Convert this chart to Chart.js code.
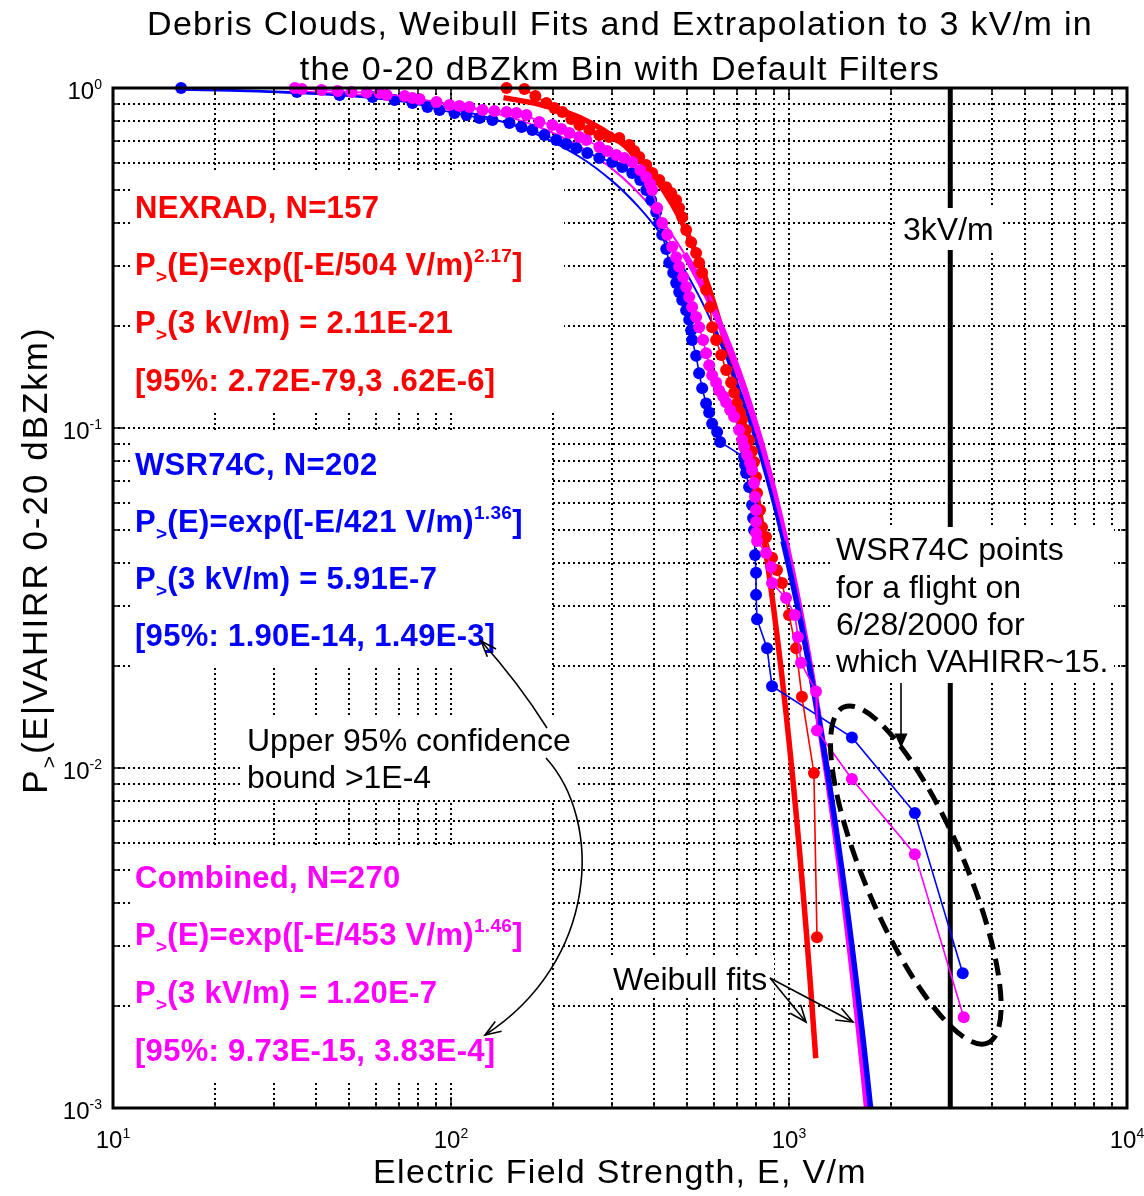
<!DOCTYPE html>
<html>
<head>
<meta charset="utf-8">
<script src="https://cdn.jsdelivr.net/npm/chart.js@4.4.1/dist/chart.umd.min.js"></script>
<style>
  html, body { margin: 0; padding: 0; background: #fff; }
  canvas { display: block; }
</style>
</head>
<body>
<canvas id="chart" width="1144" height="1196"></canvas>
<script>
// --- Data ---
const nexradE = [145.9, 164.9, 177.7, 191.5, 202.2, 213.5, 227.0, 239.7, 256.6, 274.7, 294.0, 314.7, 336.7, 348.4, 360.5, 378.1, 393.8, 413.0, 433.2, 448.1, 463.6, 473.2, 483.1, 496.3, 513.5, 531.2, 542.1, 553.4, 568.6, 584.3, 592.3, 608.6, 629.9, 651.6, 674.3, 688.0, 702.2, 716.7, 726.5, 746.4, 761.8, 777.5, 788.1, 798.9, 804.4, 821.0, 832.2, 855.2, 890.8, 921.6, 953.5, 1000, 1049, 1092, 1185, 1210];
const nexradP = [1, 0.993, 0.947, 0.903, 0.873, 0.850, 0.811, 0.778, 0.752, 0.727, 0.718, 0.713, 0.680, 0.653, 0.627, 0.594, 0.562, 0.536, 0.511, 0.491, 0.468, 0.444, 0.417, 0.382, 0.352, 0.327, 0.306, 0.286, 0.255, 0.227, 0.198, 0.1815, 0.164, 0.148, 0.136, 0.127, 0.118, 0.111, 0.106, 0.0987, 0.0922, 0.0855, 0.0794, 0.0718, 0.0644, 0.0574, 0.0511, 0.0478, 0.0415, 0.0382, 0.0350, 0.0282, 0.0225, 0.0162, 0.00967, 0.00318];

const wsrE = [15.9, 35.0, 46.8, 58.6, 68.1, 76.9, 85.2, 92.5, 102.4, 111.1, 121.4, 132.6, 148.9, 161.6, 174.1, 188.9, 204.9, 219.4, 234.9, 253.1, 274.7, 300.0, 321.2, 343.8, 363.0, 378.1, 391.1, 404.6, 413.0, 421.5, 433.2, 442.1, 454.3, 463.6, 473.2, 483.1, 496.3, 506.6, 513.5, 516.9, 531.2, 542.1, 553.4, 568.6, 580.4, 592.3, 612.9, 625.6, 736.3, 741.3, 746.4, 761.8, 777.5, 782.8, 788.1, 793.5, 798.9, 799.0, 804.4, 861.0, 890.8, 1535, 2357, 3266];
const wsrP = [1, 0.973, 0.954, 0.941, 0.922, 0.903, 0.879, 0.862, 0.844, 0.833, 0.816, 0.805, 0.789, 0.768, 0.752, 0.727, 0.703, 0.684, 0.666, 0.644, 0.622, 0.606, 0.586, 0.562, 0.536, 0.501, 0.468, 0.432, 0.401, 0.370, 0.336, 0.306, 0.286, 0.267, 0.251, 0.238, 0.222, 0.208, 0.194, 0.1815, 0.163, 0.145, 0.131, 0.118, 0.111, 0.103, 0.0973, 0.0910, 0.0821, 0.0778, 0.0737, 0.0671, 0.0594, 0.0544, 0.0501, 0.0423, 0.0375, 0.0323, 0.0274, 0.0225, 0.0174, 0.0123, 0.00737, 0.00249];

const combE = [34.5, 36.2, 41.4, 46.2, 50.8, 56.3, 61.5, 64.5, 72.9, 76.9, 80.7, 90.6, 99.0, 105.9, 113.4, 123.9, 134.4, 145.9, 156.1, 167.2, 182.6, 199.5, 212.1, 223.9, 239.7, 251.4, 274.7, 290.0, 308.3, 325.6, 343.8, 363.0, 378.1, 388.5, 393.8, 407.4, 421.5, 436.1, 451.2, 463.6, 473.2, 486.4, 496.3, 506.6, 516.9, 531.2, 542.1, 557.1, 568.6, 580.4, 592.3, 608.6, 621.3, 638.5, 651.6, 669.6, 688.0, 711.8, 726.5, 736.3, 751.3, 767.1, 777.5, 788.1, 793.5, 798.9, 799.0, 799.1, 804.4, 855.2, 884.8, 890.8, 979.8, 1041, 1063, 1085, 1202, 1210, 1535, 2357, 3288];
const combP = [1, 0.993, 0.987, 0.980, 0.973, 0.970, 0.967, 0.954, 0.947, 0.935, 0.928, 0.910, 0.891, 0.885, 0.879, 0.862, 0.856, 0.850, 0.844, 0.833, 0.794, 0.778, 0.758, 0.737, 0.718, 0.703, 0.671, 0.653, 0.635, 0.622, 0.606, 0.574, 0.547, 0.522, 0.501, 0.444, 0.401, 0.370, 0.341, 0.318, 0.298, 0.278, 0.260, 0.243, 0.227, 0.212, 0.198, 0.1815, 0.166, 0.153, 0.143, 0.136, 0.129, 0.124, 0.119, 0.113, 0.108, 0.0987, 0.0922, 0.0879, 0.0833, 0.0789, 0.0752, 0.0689, 0.0627, 0.0574, 0.0529, 0.0491, 0.0465, 0.0429, 0.0390, 0.0350, 0.0316, 0.0282, 0.0243, 0.0204, 0.0168, 0.0129, 0.00928, 0.00558, 0.00185];

// Weibull fit curves as drawn
const nexradFitE = [143, 180, 220, 260, 300, 350, 400, 450, 500, 550, 600, 650, 700, 750, 800, 850, 900, 950, 1000, 1050, 1100, 1150, 1200];
const nexradFitP = [0.9371, 0.8985, 0.8474, 0.7883, 0.7230, 0.6356, 0.5458, 0.4575, 0.3743, 0.2986, 0.2323, 0.1761, 0.1300, 0.09353, 0.06553, 0.04467, 0.02963, 0.01911, 0.01200, 0.00732, 0.00434, 0.00250, 0.00140];
const wsrFitE = [16, 25, 40, 60, 90, 130, 180, 240, 300, 360, 420, 480, 540, 600, 660, 720, 800, 880, 960, 1050, 1150, 1250, 1350, 1450, 1550, 1650, 1750, 1850];
const wsrFitP = [0.9884, 0.9787, 0.9601, 0.9318, 0.8846, 0.8169, 0.7299, 0.6277, 0.5322, 0.4456, 0.3691, 0.3026, 0.2459, 0.1981, 0.1583, 0.1256, 0.09121, 0.06550, 0.04651, 0.03125, 0.01980, 0.01236, 0.00761, 0.00463, 0.00278, 0.00165, 0.000966, 0.000560];
const combFitE = [35, 50, 70, 100, 140, 190, 250, 310, 370, 430, 490, 550, 610, 670, 740, 820, 900, 980, 1070, 1170, 1270, 1370, 1470, 1570, 1670, 1770, 1870];
const combFitP = [0.9765, 0.9607, 0.9366, 0.8957, 0.8352, 0.7549, 0.6571, 0.5628, 0.4751, 0.3958, 0.3258, 0.2651, 0.2135, 0.1702, 0.1291, 0.09269, 0.06557, 0.04572, 0.02998, 0.01838, 0.01107, 0.00653, 0.00378, 0.00216, 0.00121, 0.000667, 0.000362];

// 3 kV/m marker line
const markerE = [3000, 3000];
const markerP = [0.001, 1];

// dashed ellipse around the 6/28/2000 flight points (ends of its long axis)
const ellipseE = [1454, 3871];
const ellipseP = [0.01511, 0.001553];

// tick labels (powers of ten)
const xTickExps = [1, 2, 3, 4];
const yTickExps = [0, -1, -2, -3];

// --- Styling ---
const RED = '#ff0000', BLUE = '#0000ff', MAG = '#ff00ff';
const FONT = '"Liberation Sans", Arial, Helvetica, sans-serif';

const toPoints = (es, ps) => es.map((e, i) => ({ x: e, y: ps[i] }));

function fontOf(size, bold) {
    return `${bold ? 'bold ' : ''}${size}px ${FONT}`;
}

// runs: [[text, kind]] with kind undefined | 'sub' | 'sup'
function runsWidth(ctx, runs, size, bold) {
    let w = 0;
    runs.forEach(([t, k]) => {
        ctx.font = fontOf(k ? Math.round(size * 0.6) : size, bold);
        w += ctx.measureText(t).width;
    });
    return w;
}

function drawRuns(ctx, runs, x, y, size, opts = {}) {
    const bold = !!opts.bold;
    ctx.letterSpacing = (opts.spacing || 0) + 'px';
    const w = runsWidth(ctx, runs, size, bold);
    let cx = opts.align === 'center' ? x - w / 2 : opts.align === 'right' ? x - w : x;
    ctx.fillStyle = opts.color || '#000';
    ctx.textAlign = 'left';
    ctx.textBaseline = 'alphabetic';
    runs.forEach(([t, k]) => {
        const s = k ? Math.round(size * 0.6) : size;
        ctx.font = fontOf(s, bold);
        const dy = k === 'sub' ? size * 0.26 : k === 'sup' ? -size * 0.42 : 0;
        ctx.fillText(t, cx, y + dy);
        cx += ctx.measureText(t).width;
    });
    ctx.letterSpacing = '0px';
    return w;
}

function arrowHead(ctx, x, y, ang, len, spread, filled) {
    const a1 = ang + Math.PI - spread, a2 = ang + Math.PI + spread;
    ctx.beginPath();
    ctx.moveTo(x + len * Math.cos(a1), y + len * Math.sin(a1));
    ctx.lineTo(x, y);
    ctx.lineTo(x + len * Math.cos(a2), y + len * Math.sin(a2));
    if (filled) { ctx.closePath(); ctx.fill(); } else ctx.stroke();
}

// text blocks (colour, left x, baselines, lines)
const textBlocks = [
    { color: RED, x: 135, base: [218, 275, 333, 391], lines: [
        [['NEXRAD, N=157']],
        [['P'], ['>', 'sub'], ['(E)=exp([-E/504 V/m)'], ['2.17', 'sup'], [']']],
        [['P'], ['>', 'sub'], ['(3 kV/m) = 2.11E-21']],
        [['[95%: 2.72E-79,3 .62E-6]']] ] },
    { color: BLUE, x: 135, base: [475, 532, 589, 646], lines: [
        [['WSR74C, N=202']],
        [['P'], ['>', 'sub'], ['(E)=exp([-E/421 V/m)'], ['1.36', 'sup'], [']']],
        [['P'], ['>', 'sub'], ['(3 kV/m) = 5.91E-7']],
        [['[95%: 1.90E-14, 1.49E-3]']] ] },
    { color: MAG, x: 135, base: [888, 945, 1003, 1061], lines: [
        [['Combined, N=270']],
        [['P'], ['>', 'sub'], ['(E)=exp([-E/453 V/m)'], ['1.46', 'sup'], [']']],
        [['P'], ['>', 'sub'], ['(3 kV/m) = 1.20E-7']],
        [['[95%: 9.73E-15, 3.83E-4]']] ] }
];

const whiteBoxes = [
    [132, 172, 432, 238], [132, 432, 420, 236], [132, 845, 420, 237],
    [242, 716, 336, 84], [897, 208, 104, 42], [830, 527, 284, 156], [608, 958, 166, 40]
];

const overlay = {
    id: 'overlay',
    beforeDraw(chart) {
        const ctx = chart.ctx;
        ctx.save();
        ctx.fillStyle = '#fff';
        ctx.fillRect(0, 0, chart.width, chart.height);
        ctx.restore();
    },
    beforeDatasetsDraw(chart) {
        const ctx = chart.ctx;
        const { left, right, top, bottom } = chart.chartArea;
        const xs = chart.scales.x, ys = chart.scales.y;
        ctx.save();
        ctx.strokeStyle = '#000';
        ctx.lineWidth = 2;
        ctx.setLineDash([2, 3]);
        for (let e = 1; e <= 3; e++) {
            for (let k = 1; k <= 9; k++) {
                const v = k * Math.pow(10, e);
                if (v <= 10) continue;
                const px = Math.round(xs.getPixelForValue(v));
                ctx.beginPath(); ctx.moveTo(px, top); ctx.lineTo(px, bottom); ctx.stroke();
            }
        }
        for (let e = -3; e <= -1; e++) {
            for (let k = 1; k <= 9; k++) {
                const v = k * Math.pow(10, e);
                if (v <= 0.001) continue;
                const py = Math.round(ys.getPixelForValue(v));
                ctx.beginPath(); ctx.moveTo(left, py); ctx.lineTo(right, py); ctx.stroke();
            }
        }
        ctx.restore();
    },
    afterDatasetsDraw(chart) {
        const ctx = chart.ctx;
        const { left, right, top, bottom } = chart.chartArea;
        const xs = chart.scales.x, ys = chart.scales.y;
        ctx.save();

        // white text backgrounds
        ctx.fillStyle = '#fff';
        whiteBoxes.forEach(([x, y, w, h]) => ctx.fillRect(x, y, w, h));

        // coloured fit summaries
        textBlocks.forEach(b => {
            b.lines.forEach((runs, i) => drawRuns(ctx, runs, b.x, b.base[i], 31, { bold: true, color: b.color, spacing: 0.3 }));
        });

        // black annotations
        drawRuns(ctx, [['3kV/m']], 903, 240, 32);
        drawRuns(ctx, [['Upper 95% confidence']], 247, 751, 32);
        drawRuns(ctx, [['bound >1E-4']], 247, 788, 32);
        drawRuns(ctx, [['WSR74C points']], 836, 560, 32);
        drawRuns(ctx, [['for a flight on']], 836, 598, 32);
        drawRuns(ctx, [['6/28/2000 for']], 836, 635, 32);
        drawRuns(ctx, [['which VAHIRR~15.']], 836, 672, 32);
        drawRuns(ctx, [['Weibull fits']], 613, 990, 32);

        // arrows
        ctx.strokeStyle = '#000';
        ctx.fillStyle = '#000';
        ctx.lineWidth = 1.6;
        ctx.beginPath();
        ctx.moveTo(547, 728);
        ctx.quadraticCurveTo(518, 682, 481, 641);
        ctx.stroke();
        arrowHead(ctx, 481, 641, Math.atan2(641 - 682, 481 - 518), 17, 0.35, false);

        ctx.beginPath();
        ctx.moveTo(546, 758);
        ctx.bezierCurveTo(604, 822, 598, 962, 485, 1035);
        ctx.stroke();
        arrowHead(ctx, 485, 1035, Math.atan2(1035 - 962, 485 - 598), 17, 0.35, false);

        [[806, 1022], [853, 1022]].forEach(([tx, ty]) => {
            ctx.beginPath(); ctx.moveTo(770, 978); ctx.lineTo(tx, ty); ctx.stroke();
            arrowHead(ctx, tx, ty, Math.atan2(ty - 978, tx - 770), 18, 0.38, false);
        });

        ctx.beginPath(); ctx.moveTo(901, 683); ctx.lineTo(901, 736); ctx.stroke();
        arrowHead(ctx, 901, 748, Math.PI / 2, 16, 0.42, true);

        // dashed ellipse
        const x1 = xs.getPixelForValue(ellipseE[0]), y1 = ys.getPixelForValue(ellipseP[0]);
        const x2 = xs.getPixelForValue(ellipseE[1]), y2 = ys.getPixelForValue(ellipseP[1]);
        ctx.save();
        ctx.lineWidth = 5;
        ctx.setLineDash([17, 9]);
        ctx.beginPath();
        ctx.ellipse((x1 + x2) / 2, (y1 + y2) / 2, Math.hypot(x2 - x1, y2 - y1) / 2, 50,
            Math.atan2(y2 - y1, x2 - x1), 0, Math.PI * 2);
        ctx.stroke();
        ctx.restore();

        // frame and inward ticks
        ctx.setLineDash([]);
        ctx.lineWidth = 1.5;
        for (let e = 1; e <= 3; e++) {
            for (let k = 1; k <= 9; k++) {
                const v = k * Math.pow(10, e);
                if (v <= 10) continue;
                const px = Math.round(xs.getPixelForValue(v));
                const len = k === 1 ? 11 : 6;
                ctx.beginPath();
                ctx.moveTo(px, bottom); ctx.lineTo(px, bottom - len);
                ctx.moveTo(px, top); ctx.lineTo(px, top + len);
                ctx.stroke();
            }
        }
        for (let e = -3; e <= -1; e++) {
            for (let k = 1; k <= 9; k++) {
                const v = k * Math.pow(10, e);
                if (v <= 0.001) continue;
                const py = Math.round(ys.getPixelForValue(v));
                const len = k === 1 ? 11 : 6;
                ctx.beginPath();
                ctx.moveTo(left, py); ctx.lineTo(left + len, py);
                ctx.moveTo(right, py); ctx.lineTo(right - len, py);
                ctx.stroke();
            }
        }
        ctx.lineWidth = 3;
        ctx.strokeRect(left, top, right - left, bottom - top);

        // tick labels
        xTickExps.forEach(p => {
            const px = xs.getPixelForValue(Math.pow(10, p));
            drawRuns(ctx, [['10'], [String(p), 'sup']], px, 1148, 24, { align: 'center' });
        });
        yTickExps.forEach(p => {
            const py = ys.getPixelForValue(Math.pow(10, p));
            drawRuns(ctx, [['10'], [String(p), 'sup']], 102, py + 11, 24, { align: 'right' });
        });

        // titles
        const cxPlot = (left + right) / 2;
        drawRuns(ctx, [['Debris Clouds, Weibull Fits and Extrapolation to 3 kV/m in']], cxPlot, 35, 34, { align: 'center', spacing: 1.3 });
        drawRuns(ctx, [['the 0-20 dBZkm Bin with Default Filters']], cxPlot, 80, 34, { align: 'center', spacing: 1.3 });
        drawRuns(ctx, [['Electric Field Strength, E, V/m']], cxPlot, 1183, 34, { align: 'center', spacing: 1.3 });

        ctx.save();
        ctx.translate(47, 560);
        ctx.rotate(-Math.PI / 2);
        drawRuns(ctx, [['P'], ['>', 'sub'], ['(E|VAHIRR 0-20 dBZkm)']], 0, 0, 35, { align: 'center', spacing: 2 });
        ctx.restore();

        ctx.restore();
    }
};

function dataSet(label, es, ps, color, order) {
    return {
        label, data: toPoints(es, ps), order,
        showLine: true, borderColor: color, borderWidth: 1.6,
        pointRadius: 6, pointBackgroundColor: color, pointBorderWidth: 0,
        pointHoverRadius: 6, clip: false
    };
}

function fitSet(label, es, ps, color, order, widthAt) {
    return {
        label, data: toPoints(es, ps), order,
        showLine: true, borderColor: color, borderWidth: widthAt(es[0]),
        pointRadius: 0, tension: 0.35, clip: 0,
        segment: { borderWidth: c => widthAt(c.p0.parsed.x) }
    };
}

new Chart(document.getElementById('chart'), {
    type: 'scatter',
    data: {
        datasets: [
            { label: '3 kV/m', data: toPoints(markerE, markerP), order: 10, showLine: true,
              borderColor: '#000', borderWidth: 5, pointRadius: 0, clip: 0 },
            fitSet('NEXRAD fit', nexradFitE, nexradFitP, RED, 9, () => 5.5),
            fitSet('Combined fit', combFitE, combFitP, MAG, 8, e => (e < 470 ? 2 : 6.5)),
            fitSet('WSR74C fit', wsrFitE, wsrFitP, BLUE, 7, e => (e < 560 ? 2 : e < 900 ? 3.5 : 5.5)),
            dataSet('WSR74C', wsrE, wsrP, BLUE, 6),
            dataSet('NEXRAD', nexradE, nexradP, RED, 5),
            dataSet('Combined', combE, combP, MAG, 4)
        ]
    },
    options: {
        responsive: false,
        animation: false,
        events: [],
        layout: { padding: { left: 113, right: 17, top: 88, bottom: 88 } },
        plugins: { legend: { display: false }, tooltip: { enabled: false }, title: { display: false } },
        scales: {
            x: { type: 'logarithmic', min: 10, max: 10000, display: false },
            y: { type: 'logarithmic', min: 0.001, max: 1, display: false }
        }
    },
    plugins: [overlay]
});
</script>
</body>
</html>
